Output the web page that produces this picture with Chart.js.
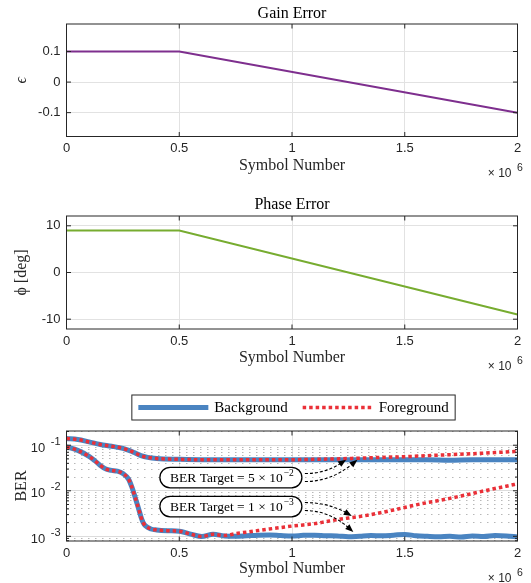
<!DOCTYPE html>
<html>
<head>
<meta charset="utf-8">
<title>Gain / Phase Error and BER</title>
<script src="https://cdn.jsdelivr.net/npm/chart.js@4.4.0/dist/chart.umd.min.js"></script>
<style>
  html, body { margin: 0; padding: 0; background: #fff; }
  #wrap { position: relative; width: 531px; height: 583px; }
  #wrap canvas { position: absolute; left: 0; }
</style>
</head>
<body>
<div id="wrap">
  <canvas id="gainChart" width="531" height="183" style="top:0px"></canvas>
  <canvas id="phaseChart" width="531" height="195" style="top:183px"></canvas>
  <canvas id="berChart" width="531" height="205" style="top:378px"></canvas>
</div>
<script>
// symbol axis values are in units of 1e6 symbols
const symbolTicks = [0, 0.5, 1, 1.5, 2];

// impairment profile
const profileSym = [0, 0.5, 2];
const gainError = [0.1, 0.1, -0.1];
const phaseErrorDeg = [9, 9, -9];
const gainTicks = [-0.1, 0, 0.1];
const phaseTicks = [-10, 0, 10];

// BER curves, target 5e-2
const highSym = [0, 0.05, 0.1, 0.15, 0.2, 0.25, 0.28, 0.3, 0.33, 0.36, 0.4,
  0.5, 0.6, 0.7, 0.8, 0.9, 1.0, 1.1, 1.2, 1.3, 1.4, 1.5, 1.6, 1.7, 1.8, 1.9, 2.0];
const highBackground = [0.140, 0.133, 0.118, 0.104, 0.095, 0.085, 0.076, 0.069, 0.059, 0.054, 0.051,
  0.049, 0.048, 0.048, 0.048, 0.048, 0.048, 0.048, 0.048, 0.048, 0.048, 0.048, 0.048, 0.047, 0.048, 0.048, 0.048];
const highForeground = [0.140, 0.133, 0.118, 0.104, 0.095, 0.085, 0.076, 0.069, 0.059, 0.054, 0.051,
  0.049, 0.048, 0.048, 0.048, 0.048, 0.048, 0.049, 0.050, 0.052, 0.054, 0.056, 0.059, 0.062, 0.065, 0.069, 0.073];

// BER curves, target 1e-3
const lowSym = [0, 0.05, 0.1, 0.125, 0.15, 0.175, 0.2, 0.225, 0.25, 0.275, 0.29, 0.3, 0.31, 0.32, 0.33,
  0.34, 0.35, 0.375, 0.4, 0.45, 0.5, 0.55, 0.6, 0.65, 0.7,
  0.75, 0.8, 0.85, 0.9, 0.95, 1.0, 1.05, 1.1, 1.15, 1.2, 1.25, 1.3, 1.35, 1.4, 1.45,
  1.5, 1.55, 1.6, 1.65, 1.7, 1.75, 1.8, 1.85, 1.9, 1.95, 2.0];
const lowBackground = [0.092, 0.077, 0.057, 0.046, 0.036, 0.030, 0.028, 0.027, 0.024, 0.018, 0.012, 0.0085, 0.0058, 0.0040, 0.0027,
  0.0020, 0.0017, 0.00145, 0.00138, 0.00133, 0.0013, 0.00112, 0.00099, 0.00111, 0.00102,
  0.00100, 0.00103, 0.00106, 0.00107, 0.00104, 0.00102, 0.00105, 0.00106, 0.00103, 0.00102, 0.00098, 0.00101, 0.00104, 0.00103, 0.00106,
  0.00110, 0.00103, 0.00100, 0.00098, 0.00100, 0.00097, 0.00102, 0.00099, 0.00104, 0.00102, 0.00097];
const lowForeground = [0.092, 0.077, 0.057, 0.046, 0.036, 0.030, 0.028, 0.027, 0.024, 0.018, 0.012, 0.0085, 0.0058, 0.0040, 0.0027,
  0.0020, 0.0017, 0.00145, 0.00138, 0.00133, 0.0013, 0.00112, 0.00099, 0.00111, 0.00104,
  0.00115, 0.00124, 0.00134, 0.00145, 0.00156, 0.00168, 0.00178, 0.00190, 0.00210, 0.00232, 0.00252, 0.00272, 0.00300, 0.00335, 0.00380,
  0.00430, 0.00490, 0.00550, 0.00610, 0.00680, 0.00770, 0.00870, 0.00990, 0.01120, 0.01260, 0.01420];

const berDecades = [1e-3, 1e-2, 1e-1];
const berMin = 7.9e-4;
const berMax = 0.205;

// callouts: target mantissa / exponent, box anchor and arrow tips (symbols, BER)
const targetMantissa = [5, 1];
const targetExponent = [-2, -3];
const calloutAnchor = [[0.729, 0.0195], [0.729, 0.0045]];
const calloutTips = [
  [[1.24, 0.048], [1.29, 0.048]],
  [[1.265, 0.0028], [1.272, 0.00125]]
];

const ink = '#262626';
const gridColor = '#e2e2e2';
const sansFont = '"Liberation Sans", Arial, Helvetica, sans-serif';
const serifFont = '"Liberation Serif", "Times New Roman", "DejaVu Serif", serif';
const blue = '#4a84c1';
const red = '#ea3038';

Chart.defaults.font.family = sansFont;
Chart.defaults.font.size = 13;
Chart.defaults.color = ink;
Chart.defaults.animation = false;
Chart.defaults.events = [];
Chart.defaults.plugins.legend.display = false;
Chart.defaults.plugins.tooltip.enabled = false;

const pts = (xs, ys) => xs.map((x, i) => ({ x, y: ys[i] }));

// box around the axes plus inward tick marks on all four sides
const axesFrame = {
  id: 'axesFrame',
  afterDatasetsDraw(chart) {
    const { ctx, chartArea: a, scales: { x, y } } = chart;
    ctx.save();
    ctx.strokeStyle = ink;
    ctx.lineWidth = 1;
    ctx.setLineDash([]);
    ctx.beginPath();
    x.ticks.forEach(t => {
      const px = x.getPixelForValue(t.value);
      ctx.moveTo(px, a.bottom); ctx.lineTo(px, a.bottom - 4.5);
      ctx.moveTo(px, a.top); ctx.lineTo(px, a.top + 4.5);
    });
    y.ticks.forEach(t => {
      const py = y.getPixelForValue(t.value);
      const len = t.major === false ? 2.5 : 4.5;
      ctx.moveTo(a.left, py); ctx.lineTo(a.left + len, py);
      ctx.moveTo(a.right, py); ctx.lineTo(a.right - len, py);
    });
    ctx.stroke();
    ctx.strokeRect(a.left, a.top, a.right - a.left, a.bottom - a.top);
    ctx.restore();
  }
};

// "x 10^6" multiplier under the right end of the symbol axis
const symbolMultiplier = {
  id: 'symbolMultiplier',
  afterDraw(chart) {
    const { ctx, chartArea: a } = chart;
    ctx.save();
    ctx.fillStyle = ink;
    ctx.textBaseline = 'middle';
    ctx.textAlign = 'right';
    ctx.font = '12px ' + sansFont;
    ctx.fillText('\u00d7 10', a.right - 6, a.bottom + 37.5);
    ctx.textAlign = 'left';
    ctx.font = '10.5px ' + sansFont;
    ctx.fillText('6', a.right - 0.5, a.bottom + 32);
    ctx.restore();
  }
};

Chart.register(axesFrame, symbolMultiplier);

function symbolAxis(height, titleGap) {
  return {
    type: 'linear',
    min: 0,
    max: 2,
    afterBuildTicks: s => { s.ticks = symbolTicks.map(v => ({ value: v })); },
    afterFit: s => { s.height = height; },
    ticks: { padding: 4.5, autoSkip: false, maxRotation: 0, callback: v => String(v) },
    grid: { color: gridColor, drawTicks: false },
    border: { display: false },
    title: {
      display: true, text: 'Symbol Number', color: ink,
      font: { family: serifFont, size: 16 },
      padding: { top: 0, bottom: titleGap }
    }
  };
}

function valueAxis(min, max, tickValues, text, italic) {
  return {
    min,
    max,
    afterBuildTicks: s => { s.ticks = tickValues.map(v => ({ value: v })); },
    afterFit: s => { s.width = 66.5; },
    ticks: { padding: 6, autoSkip: false, callback: v => String(v) },
    grid: { color: gridColor, drawTicks: false },
    border: { display: false },
    title: {
      display: true, text, color: ink,
      font: { family: serifFont, size: 16, style: italic ? 'italic' : 'normal' },
      padding: { top: 12, bottom: 0 }
    }
  };
}

function plotTitle(text, padTop, padBottom) {
  return {
    display: true, text, fullSize: false, color: '#000',
    font: { family: serifFont, size: 16, weight: 'normal' },
    padding: { top: padTop, bottom: padBottom }
  };
}

new Chart(document.getElementById('gainChart'), {
  type: 'line',
  data: {
    datasets: [{
      data: pts(profileSym, gainError),
      borderColor: '#7e2f8e', borderWidth: 2, pointRadius: 0
    }]
  },
  options: {
    responsive: false,
    devicePixelRatio: 1,
    layout: { padding: { left: 0, right: 13.5, top: 0, bottom: 0 } },
    plugins: { title: plotTitle('Gain Error', 4.2, 0.6) },
    scales: {
      x: symbolAxis(46.5, 7.7),
      y: valueAxis(-0.178, 0.19, gainTicks, '\u03f5', true)
    }
  }
});

new Chart(document.getElementById('phaseChart'), {
  type: 'line',
  data: {
    datasets: [{
      data: pts(profileSym, phaseErrorDeg),
      borderColor: '#77ac30', borderWidth: 2, pointRadius: 0
    }]
  },
  options: {
    responsive: false,
    devicePixelRatio: 1,
    layout: { padding: { left: 0, right: 13.5, top: 0, bottom: 0 } },
    plugins: { title: plotTitle('Phase Error', 12, 1.8) },
    scales: {
      x: symbolAxis(49, 10.4),
      y: valueAxis(-12.1, 12.1, phaseTicks, '\u03d5 [deg]', false)
    }
  }
});

// log grid: decades solid, 2..9 dotted
const berGridTicks = [];
for (let e = -4; e <= 0; e++) {
  for (let m = 1; m <= 9; m++) {
    const v = parseFloat(m + 'e' + e);
    if (v >= berMin && v <= berMax) berGridTicks.push({ value: v, major: m === 1 });
  }
}

function drawArrow(ctx, sx, sy, ex, ey) {
  const cx = sx + (ex - sx) * 0.5;
  const cy = sy;
  const ang = Math.atan2(ey - cy, ex - cx);
  const bx = ex - 6 * Math.cos(ang);
  const by = ey - 6 * Math.sin(ang);
  ctx.setLineDash([3, 2]);
  ctx.beginPath();
  ctx.moveTo(sx, sy);
  ctx.quadraticCurveTo(cx, cy, bx, by);
  ctx.stroke();
  ctx.setLineDash([]);
  ctx.beginPath();
  ctx.moveTo(ex, ey);
  ctx.lineTo(ex - 8 * Math.cos(ang) + 3.2 * Math.sin(ang), ey - 8 * Math.sin(ang) - 3.2 * Math.cos(ang));
  ctx.lineTo(ex - 8 * Math.cos(ang) - 3.2 * Math.sin(ang), ey - 8 * Math.sin(ang) + 3.2 * Math.cos(ang));
  ctx.closePath();
  ctx.fill();
}

function stadium(ctx, x, y, w, h) {
  const r = h / 2;
  ctx.beginPath();
  ctx.moveTo(x + r, y);
  ctx.lineTo(x + w - r, y);
  ctx.arc(x + w - r, y + r, r, -Math.PI / 2, Math.PI / 2);
  ctx.lineTo(x + r, y + h);
  ctx.arc(x + r, y + r, r, Math.PI / 2, Math.PI * 1.5);
  ctx.closePath();
}

const berNotes = {
  id: 'berNotes',
  afterDatasetsDraw(chart) {
    const { ctx, scales: { x, y } } = chart;
    ctx.save();
    ctx.lineWidth = 1.1;
    ctx.strokeStyle = '#000';
    ctx.fillStyle = '#000';
    targetMantissa.forEach((mant, i) => {
      const cx = x.getPixelForValue(calloutAnchor[i][0]);
      const cy = y.getPixelForValue(calloutAnchor[i][1]);
      const w = 142, h = 20.5;
      const sx = cx + w / 2 + 3;
      calloutTips[i].forEach((tip, k) => {
        drawArrow(ctx, sx, cy + (k === 0 ? -4 : 4), x.getPixelForValue(tip[0]), y.getPixelForValue(tip[1]));
      });
      ctx.setLineDash([]);
      stadium(ctx, cx - w / 2, cy - h / 2, w, h);
      ctx.fillStyle = '#fff';
      ctx.fill();
      ctx.lineWidth = 1.3;
      ctx.stroke();
      ctx.lineWidth = 1.1;
      ctx.fillStyle = '#000';
      const main = 'BER Target = ' + mant + ' \u00d7 10';
      const sup = '\u2212' + Math.abs(targetExponent[i]);
      ctx.font = '13.5px ' + serifFont;
      const mw = ctx.measureText(main).width;
      ctx.font = '9.5px ' + serifFont;
      const sw = ctx.measureText(sup).width;
      const left = cx - (mw + sw + 1) / 2 + 1;
      ctx.textBaseline = 'middle';
      ctx.textAlign = 'left';
      ctx.font = '13.5px ' + serifFont;
      ctx.fillText(main, left, cy + 0.5);
      ctx.font = '9.5px ' + serifFont;
      ctx.fillText(sup, left + mw + 1, cy - 4.5);
    });
    ctx.restore();
  },
  afterDraw(chart) {
    const { ctx, chartArea: a, scales: { y } } = chart;
    ctx.save();
    // decade labels 10^k
    ctx.fillStyle = ink;
    ctx.textBaseline = 'middle';
    ctx.textAlign = 'right';
    berDecades.forEach(v => {
      const py = y.getPixelForValue(v);
      const exp = String(Math.round(Math.log10(v)));
      ctx.font = '11px ' + sansFont;
      ctx.fillText(exp, a.left - 6, py - 3.5);
      const ew = ctx.measureText(exp).width;
      ctx.font = '13px ' + sansFont;
      ctx.fillText('10', a.left - 6 - ew - 5.5, py + 3);
    });

    // legend
    const shown = chart.data.datasets.slice(0, 2);
    const sample = 70, gap = 6, between = 15, pad = 6.5;
    ctx.font = '15px ' + serifFont;
    const widths = shown.map(d => ctx.measureText(d.label).width);
    const total = widths.reduce((s, w) => s + sample + gap + w, 0) + between;
    const midX = (a.left + a.right) / 2 + 1.5;
    const boxTop = a.top - 36, boxH = 25;
    const midY = boxTop + boxH / 2;
    ctx.fillStyle = '#fff';
    ctx.fillRect(midX - total / 2 - pad, boxTop, total + 2 * pad, boxH);
    ctx.strokeStyle = ink;
    ctx.lineWidth = 1;
    ctx.strokeRect(midX - total / 2 - pad, boxTop, total + 2 * pad, boxH);
    let cur = midX - total / 2;
    shown.forEach((d, i) => {
      ctx.strokeStyle = d.borderColor;
      ctx.lineWidth = d.borderWidth;
      ctx.setLineDash(d.borderDash || []);
      ctx.beginPath();
      ctx.moveTo(cur, midY);
      ctx.lineTo(cur + sample, midY);
      ctx.stroke();
      ctx.setLineDash([]);
      ctx.fillStyle = '#000';
      ctx.textAlign = 'left';
      ctx.fillText(d.label, cur + sample + gap, midY + 0.5);
      cur += sample + gap + widths[i] + between;
    });
    ctx.restore();
  }
};

const curveStyle = { pointRadius: 0, cubicInterpolationMode: 'monotone', borderCapStyle: 'butt' };
const backgroundStyle = { ...curveStyle, label: 'Background', borderColor: blue, borderWidth: 5, order: 2 };
const foregroundStyle = { ...curveStyle, label: 'Foreground', borderColor: red, borderWidth: 3.5, borderDash: [3.5, 3], order: 1 };

new Chart(document.getElementById('berChart'), {
  type: 'line',
  data: {
    datasets: [
      { ...backgroundStyle, data: pts(lowSym, lowBackground) },
      { ...foregroundStyle, data: pts(lowSym, lowForeground) },
      { ...backgroundStyle, data: pts(highSym, highBackground) },
      { ...foregroundStyle, data: pts(highSym, highForeground) }
    ]
  },
  options: {
    responsive: false,
    devicePixelRatio: 1,
    layout: { padding: { left: 0, right: 13.5, top: 53, bottom: 0 } },
    scales: {
      x: symbolAxis(42, 4.4),
      y: {
        type: 'logarithmic',
        min: berMin,
        max: berMax,
        afterBuildTicks: s => { s.ticks = berGridTicks.map(t => ({ ...t })); },
        afterFit: s => { s.width = 66.5; },
        ticks: { display: false },
        grid: {
          drawTicks: false,
          lineWidth: 1,
          color: c => (c.tick && c.tick.major ? '#dcdcdc' : 'rgba(0,0,0,0.28)')
        },
        border: {
          display: false,
          dash: c => (c.tick && !c.tick.major ? [1.5, 5.5] : [])
        },
        title: {
          display: true, text: 'BER', color: ink,
          font: { family: serifFont, size: 16 },
          padding: { top: 12, bottom: 0 }
        }
      }
    }
  },
  plugins: [berNotes]
});
</script>
</body>
</html>
